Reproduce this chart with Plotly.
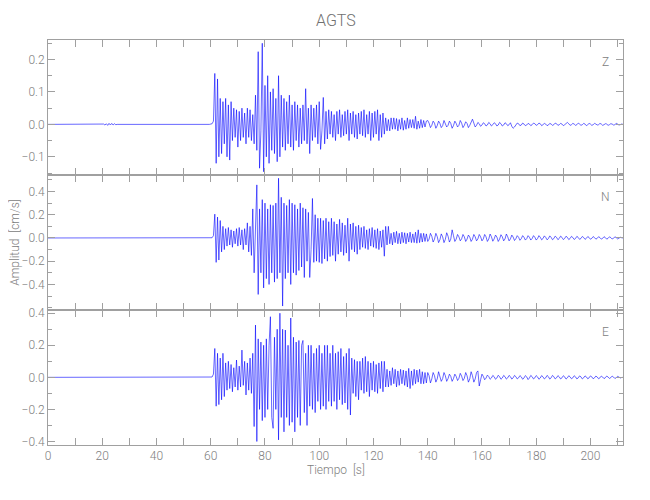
import plotly.graph_objects as go
from plotly.subplots import make_subplots

# ---------------- data ----------------
station = "AGTS"
components = ["Z", "N", "E"]

# quiet pre-event part (s, cm/s)
pre_time = [0.0, 20.0, 20.5, 21.0, 21.5, 22.0, 22.5, 23.0, 23.5, 24.0, 24.5, 25.0, 25.5, 59.5]
pre_z = [0.0, 0.0, 0.001, -0.002, 0.002, -0.003, 0.003, -0.002, 0.003, -0.002, 0.002, -0.001, 0.0, 0.0]
pre_n = [0.0, 0.0, 0.0, 0.0, 0.0, 0.0, 0.0, 0.0, 0.0, 0.0, 0.0, 0.0, 0.0, 0.0]
pre_e = [0.0, 0.0, 0.0, 0.0, 0.0, 0.0, 0.0, 0.0, 0.0, 0.0, 0.0, 0.0, 0.0, 0.0]

# event part: samples every 0.5 s starting at 60.0 s
event_start = 60.0
event_dt = 0.5

amp_z = [
    0.0, 0.002, 0.01, 0.157, -0.12, 0.14, -0.1, 0.08, -0.09, 0.07,
    -0.06, 0.08, -0.1, 0.06, -0.11, 0.07, -0.05, 0.05, -0.04, 0.045,
    -0.07, 0.04, -0.05, 0.05, -0.04, 0.035, -0.06, 0.05, -0.04, 0.045,
    -0.05, 0.03, -0.06, 0.09, -0.08, 0.224, -0.135, -0.02, 0.25, -0.146,
    0.12, -0.1, 0.15, -0.12, 0.1, -0.08, 0.11, -0.09, 0.08, -0.115,
    0.15, -0.1, 0.09, -0.07, 0.08, -0.08, 0.07, -0.06, 0.09, -0.07,
    0.06, -0.08, 0.07, -0.05, 0.06, -0.07, 0.05, -0.06, 0.06, -0.05,
    0.11, -0.06, 0.05, -0.09, 0.06, -0.05, 0.05, -0.04, 0.06, -0.06,
    0.07, -0.077, -0.02, 0.083, -0.06, 0.04, -0.045, 0.045, -0.03, 0.04,
    -0.04, 0.03, -0.05, 0.04, -0.03, 0.045, -0.04, 0.03, -0.035, 0.04,
    -0.03, 0.045, -0.05, 0.035, -0.03, 0.04, -0.04, 0.03, -0.045, 0.035,
    -0.03, 0.04, -0.035, 0.045, -0.04, 0.03, -0.03, 0.04, -0.05, 0.035,
    -0.04, 0.04, -0.03, 0.045, -0.05, 0.03, -0.04, 0.035, -0.03, 0.02,
    -0.02, 0.015, -0.02, 0.02, -0.015, 0.02, -0.015, 0.018, -0.02, 0.015,
    -0.015, 0.02, -0.018, 0.012, -0.015, 0.02, -0.012, 0.015, -0.01, 0.015,
    -0.012, 0.025, -0.015, 0.01, -0.012, 0.015, -0.01, 0.012, -0.008, 0.01,
    0.012, 0.004, -0.01, -0.003, 0.01, 0.004, -0.012, -0.004, 0.01, 0.003,
    -0.01, -0.004, 0.012, 0.004, -0.008, -0.003, 0.01, 0.003, -0.012, -0.004,
    0.01, 0.003, -0.008, -0.003, 0.012, 0.004, -0.01, -0.003, 0.008, 0.003,
    -0.01, -0.003, 0.01, 0.016, 0.004, -0.008, -0.003, 0.006, 0.002, -0.006,
    -0.002, 0.005, 0.002, -0.005, -0.002, 0.006, 0.002, -0.005, -0.001, 0.005,
    0.002, -0.005, -0.002, 0.006, 0.002, -0.005, -0.002, 0.005, 0.002, -0.004,
    -0.001, 0.005, -0.006, -0.012, -0.008, 0.0, 0.004, 0.002, -0.004, -0.002,
    0.004, 0.001, -0.004, -0.002, 0.003, 0.001, -0.004, -0.001, 0.004, 0.002,
    -0.003, -0.001, 0.004, 0.002, -0.004, -0.001, 0.003, 0.001, -0.004, -0.002,
    0.003, 0.001, -0.003, -0.001, 0.004, 0.002, -0.003, -0.001, 0.003, 0.001,
    -0.004, -0.001, 0.003, 0.006, 0.002, -0.003, -0.001, 0.003, 0.001, -0.003,
    -0.001, 0.004, 0.001, -0.003, -0.001, 0.003, 0.001, -0.004, -0.001, 0.003,
    0.001, -0.003, -0.001, 0.003, 0.001, -0.002, -0.001, 0.003, 0.001, -0.003,
    -0.001, 0.002, 0.001, -0.003, -0.001, 0.002, 0.001, -0.002, -0.001, 0.003,
    0.001, -0.002, -0.001, 0.001, 0.0,
]

amp_n = [
    0.0, 0.002, 0.02, 0.205, -0.21, 0.18, -0.19, 0.15, -0.12, 0.1,
    -0.1, 0.08, -0.07, 0.09, -0.06, 0.07, -0.08, 0.06, -0.05, 0.08,
    -0.07, 0.09, -0.06, 0.07, -0.1, 0.08, -0.06, 0.13, -0.12, 0.1,
    -0.15, 0.25, -0.3, 0.2, 0.457, -0.486, 0.25, -0.3, 0.33, -0.43,
    0.3, -0.35, 0.25, -0.4, 0.286, -0.3, 0.28, -0.38, 0.3, -0.35,
    0.514, -0.3, 0.35, -0.586, 0.3, -0.35, 0.28, -0.3, 0.33, -0.4,
    0.3, -0.3, 0.286, -0.32, 0.25, -0.28, 0.3, -0.25, 0.26, -0.34,
    0.25, -0.2, 0.22, -0.34, -0.1, 0.34, -0.21, 0.2, -0.2, 0.17,
    -0.21, 0.17, -0.22, 0.15, -0.18, 0.17, -0.2, 0.14, -0.16, 0.17,
    -0.15, 0.14, -0.2, 0.12, -0.14, 0.16, -0.12, 0.13, -0.15, 0.11,
    -0.13, 0.17, -0.2, 0.12, -0.1, 0.13, -0.12, 0.1, -0.14, 0.11,
    -0.1, 0.09, -0.08, 0.1, -0.09, 0.07, -0.1, 0.08, -0.07, 0.09,
    -0.08, 0.07, -0.09, 0.08, -0.1, 0.06, -0.08, 0.07, -0.157, 0.1,
    -0.06, 0.1, -0.05, 0.04, -0.06, 0.05, -0.04, 0.057, -0.05, 0.04,
    -0.05, 0.05, -0.04, 0.045, -0.05, 0.04, -0.035, 0.05, -0.04, 0.035,
    -0.04, 0.05, -0.045, 0.07, -0.04, 0.04, -0.035, 0.04, -0.03, 0.035,
    -0.03, -0.01, 0.04, 0.015, -0.035, -0.01, 0.04, 0.012, -0.04, -0.015,
    0.035, 0.01, -0.04, -0.012, 0.045, 0.015, -0.035, -0.01, 0.07, 0.02,
    -0.03, -0.01, 0.03, 0.01, -0.025, -0.008, 0.03, 0.01, -0.03, -0.01,
    0.025, 0.008, -0.03, -0.01, 0.03, 0.01, -0.025, -0.008, 0.03, 0.01,
    -0.025, -0.008, 0.03, 0.01, -0.03, -0.01, 0.034, 0.01, -0.028, -0.008,
    0.025, 0.008, -0.03, -0.01, 0.028, 0.01, -0.025, -0.008, 0.034, 0.01,
    -0.025, -0.008, 0.025, 0.008, -0.022, -0.006, 0.02, 0.006, -0.02, -0.006,
    0.02, 0.006, -0.018, -0.006, 0.02, 0.006, -0.018, -0.005, 0.02, 0.006,
    -0.018, -0.005, 0.02, 0.006, -0.016, -0.005, 0.018, 0.005, -0.016, -0.005,
    0.018, 0.005, -0.015, -0.005, 0.016, 0.005, -0.015, -0.004, 0.016, 0.005,
    -0.014, -0.004, 0.015, 0.005, -0.014, -0.004, 0.014, 0.004, -0.013, -0.004,
    0.014, 0.004, -0.012, -0.004, 0.013, 0.004, -0.012, -0.003, 0.012, 0.004,
    -0.011, -0.003, 0.012, 0.003, -0.01, -0.003, 0.011, 0.003, -0.01, -0.003,
    0.011, 0.003, -0.01, -0.003, 0.01, 0.003, -0.009, -0.003, 0.01, 0.003,
    -0.008, -0.002, 0.006, 0.002, 0.0,
]

amp_e = [
    0.0, 0.002, 0.02, 0.18, -0.18, 0.15, -0.17, 0.12, -0.14, 0.15,
    -0.12, 0.09, -0.08, 0.1, -0.07, 0.08, -0.09, 0.06, -0.06, 0.108,
    -0.08, 0.07, -0.06, 0.17, -0.05, 0.1, -0.11, 0.09, -0.08, 0.12,
    -0.1, 0.15, -0.307, 0.326, -0.4, 0.24, -0.2, 0.22, -0.27, 0.2,
    -0.25, 0.24, -0.2, 0.2, 0.378, -0.25, -0.318, 0.25, -0.2, 0.3,
    -0.39, 0.4, -0.25, 0.3, -0.34, 0.295, -0.25, 0.2, -0.3, 0.37,
    -0.28, 0.25, -0.34, 0.22, -0.25, 0.23, -0.3, 0.2, 0.23, -0.22,
    0.15, -0.3, 0.2, -0.18, 0.2, -0.2, 0.15, -0.22, 0.18, -0.15,
    0.2, -0.2, 0.15, -0.18, 0.2, -0.2, 0.2, -0.15, 0.15, -0.18,
    0.2, -0.15, 0.15, -0.2, 0.16, -0.14, 0.18, -0.17, 0.13, -0.16,
    0.15, -0.2, 0.18, -0.235, 0.12, -0.1, 0.11, -0.12, 0.1, -0.14,
    0.1, -0.08, 0.12, -0.1, 0.13, -0.09, 0.1, -0.12, 0.09, -0.08,
    0.1, -0.09, 0.08, -0.1, 0.09, -0.07, 0.1, -0.09, 0.1, -0.06,
    0.05, -0.06, 0.04, -0.05, 0.06, -0.04, 0.05, -0.06, 0.04, -0.05,
    0.05, -0.04, 0.045, -0.05, 0.04, -0.06, 0.056, -0.07, 0.04, -0.05,
    0.05, -0.04, 0.045, -0.03, 0.05, -0.04, 0.035, -0.04, 0.03, -0.035,
    0.03, 0.01, -0.035, -0.01, 0.03, 0.01, -0.03, -0.01, 0.035, 0.01,
    -0.025, -0.008, 0.03, 0.01, -0.025, -0.008, 0.02, 0.006, -0.025, -0.008,
    0.02, 0.006, -0.02, -0.006, 0.025, 0.008, -0.02, -0.006, 0.03, 0.01,
    -0.03, -0.01, 0.035, 0.01, -0.03, -0.01, 0.03, 0.04, -0.054, -0.015,
    0.02, 0.006, -0.015, -0.005, 0.014, 0.005, -0.012, -0.004, 0.012, 0.004,
    -0.012, -0.004, 0.013, 0.004, -0.012, -0.004, 0.012, 0.004, -0.011, -0.003,
    0.012, 0.004, -0.011, -0.003, 0.012, 0.004, -0.01, -0.003, 0.011, 0.003,
    -0.012, -0.004, 0.011, 0.003, -0.014, -0.004, 0.012, 0.004, -0.01, -0.003,
    0.011, 0.003, -0.012, -0.004, 0.011, 0.003, -0.01, -0.003, 0.012, 0.004,
    -0.011, -0.003, 0.012, 0.004, -0.01, -0.003, 0.011, 0.003, -0.01, -0.003,
    0.01, 0.003, -0.011, -0.003, 0.01, 0.003, -0.009, -0.003, 0.01, 0.003,
    -0.01, -0.003, 0.009, 0.003, -0.01, -0.003, 0.009, 0.003, -0.009, -0.003,
    0.009, 0.003, -0.009, -0.003, 0.008, 0.002, -0.009, -0.003, 0.008, 0.002,
    -0.008, -0.002, 0.008, 0.002, -0.007, -0.002, 0.008, 0.002, -0.007, -0.002,
    0.006, 0.002, -0.004, -0.001, 0.0,
]

x_tick_values = [0, 10, 20, 30, 40, 50, 60, 70, 80, 90, 100, 110, 120, 130, 140, 150, 160, 170, 180, 190, 200, 210]
x_tick_labels = ["0", "", "20", "", "40", "", "60", "", "80", "", "100", "", "120", "", "140", "", "160", "", "180", "", "200", ""]
z_ticks = [-0.1, 0.0, 0.1, 0.2]
n_ticks = [-0.4, -0.2, 0.0, 0.2, 0.4]
e_ticks = [-0.4, -0.2, 0.0, 0.2, 0.4]
y_ranges = [[-0.156, 0.26], [-0.62, 0.542], [-0.422, 0.42]]
y_minor = [0.05, 0.1, 0.1]

# ---------------- figure ----------------
event_time = [event_start + event_dt * i for i in range(len(amp_z))]
traces = [pre_z + amp_z, pre_n + amp_n, pre_e + amp_e]
times = pre_time + event_time

AX = "#a0a0a0"
TXT = "#808080"
FONT = "Roboto, Liberation Sans, DejaVu Sans, sans-serif"

fig = make_subplots(rows=3, cols=1, shared_xaxes=True, vertical_spacing=0)
for r, amp in enumerate(traces, start=1):
    fig.add_trace(go.Scatter(x=times, y=amp, mode="lines",
                             line=dict(color="#0000ff", width=0.6),
                             showlegend=False, hoverinfo="skip"), row=r, col=1)

tick_sets = [z_ticks, n_ticks, e_ticks]
for r in range(1, 4):
    fig.update_xaxes(range=[0, 212], tickmode="array", tickvals=x_tick_values,
                     ticktext=x_tick_labels if r == 3 else [""] * len(x_tick_values),
                     showticklabels=(r == 3),
                     ticks="inside", ticklen=7, tickcolor=AX, showline=True, linecolor=AX,
                     linewidth=1, mirror="ticks", showgrid=False, zeroline=False,
                     tickfont=dict(family=FONT, size=12, color=TXT, weight=300), row=r, col=1)
    fig.update_yaxes(range=y_ranges[r - 1], tickmode="array", tickvals=tick_sets[r - 1],
                     tickformat=".1f", ticks="inside", ticklen=7, tickcolor=AX,
                     showline=True, linecolor=AX, linewidth=1, mirror="ticks",
                     showgrid=False, zeroline=False,
                     minor=dict(dtick=y_minor[r - 1], tick0=0, ticks="inside", ticklen=4, tickcolor=AX),
                     tickfont=dict(family=FONT, size=12, color=TXT, weight=300), row=r, col=1)

ann = []
for r, comp in enumerate(components, start=1):
    suffix = "" if r == 1 else str(r)
    ann.append(dict(text=comp, x=0.97, y=0.84, xref=f"x{suffix} domain", yref=f"y{suffix} domain",
                    showarrow=False, xanchor="center", yanchor="middle",
                    font=dict(family=FONT, size=12, color=TXT, weight=300)))
ann.append(dict(text=station, x=0.5, y=1.049, xref="paper", yref="paper", showarrow=False,
                xanchor="center", yanchor="middle",
                font=dict(family=FONT, size=16, color="#707070", weight=300)))
ann.append(dict(text="Tiempo  [s]", x=0.5, y=-0.061, xref="paper", yref="paper", showarrow=False,
                xanchor="center", yanchor="middle",
                font=dict(family=FONT, size=12, color=TXT, weight=300)))
ann.append(dict(text="Amplitud  [cm/s]", x=-0.0585, y=0.5, xref="paper", yref="paper", showarrow=False,
                xanchor="center", yanchor="middle", textangle=-90,
                font=dict(family=FONT, size=12, color=TXT, weight=300)))

# the page body adds an 8 px offset, so margins are shifted to keep the plot area in place
fig.update_layout(width=650, height=500, margin=dict(l=40, r=35, t=32, b=63),
                  plot_bgcolor="white", paper_bgcolor="white", annotations=ann,
                  font=dict(family=FONT, color=TXT))

fig.write_html("out.html")
